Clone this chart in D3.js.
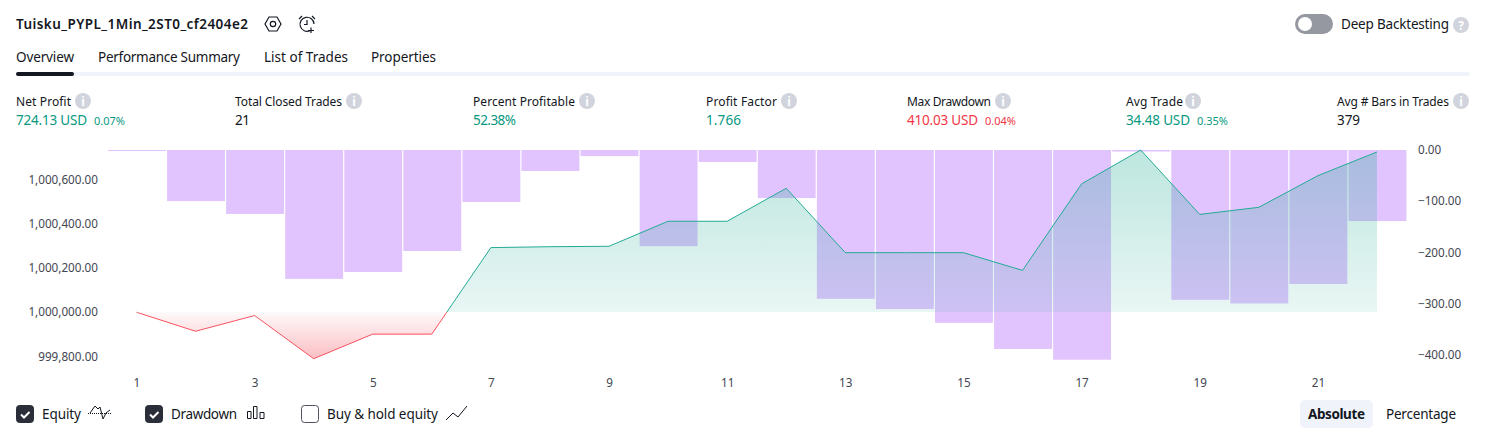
<!DOCTYPE html>
<html>
<head>
<meta charset="utf-8">
<script src="https://cdnjs.cloudflare.com/ajax/libs/d3/7.8.5/d3.min.js"></script>
<style>
  html,body{margin:0;padding:0;background:#fff;overflow:hidden;}
  svg text{font-family:"Noto Sans",sans-serif;fill:#131722;}
  .axis text{font-size:11.7px;fill:#434651;}
  .axis path,.axis line{display:none;}
</style>
</head>
<body>
<script>
// trade numbers 1..22
var trades = d3.range(1,23);
// equity, as offset from the initial 1,000,000
var equity = [0,-86,-15,-210,-99,-99,292,296,298,411,411,560,269,269,269,189,580,733,442,474,617,724.13];
// drawdown per trade
var drawdown = [-2,-100,-125,-252,-238.5,-197.5,-101.7,-41,-12,-188,-23.5,-94,-291,-311,-338,-389,-410.03,-3,-293,-300,-262,-139];

var xTicks = [1,3,5,7,9,11,13,15,17,19,21];
var leftTicks = [600,400,200,0,-200];
var rightTicks = [0,-100,-200,-300,-400];

var tabs = ["Overview","Performance Summary","List of Trades","Properties"];
var statNames = ["Net Profit","Total Closed Trades","Percent Profitable","Profit Factor","Max Drawdown","Avg Trade","Avg # Bars in Trades"];
var statValues = ["724.13 USD","21","52.38%","1.766","410.03 USD","34.48 USD","379"];
var statPcts = ["0.07%","","","","0.04%","0.35%",""];
var statColors = ["#089981","#131722","#089981","#089981","#f23645","#089981","#131722"];

// text layout, the font differs from the original so widths are pinned
var tabX = [16,98,264,371];
var tabW = [58,142,84,65];
var statX = [16,235,473,706,907,1126,1337];
var statW = [55,107,102,71,84,57,112];
var statValW = [71,15,43,35,71,64,23];
var statIconX = [83,354,587,789,1003,1193,1461];
var statPctX = [94,0,0,0,985,1197,0];

var width = 1486, height = 438;
var svg = d3.select("body").append("svg").attr("width",width).attr("height",height).style("display","block");
var defs = svg.append("defs");

var x = d3.scaleBand().domain(trades).range([108,1406.4]).paddingInner(0.02).paddingOuter(0);
var yEq = d3.scaleLinear().domain([-210,733]).range([358.7,150]);
var yDd = d3.scaleLinear().domain([-410.03,0]).range([359.7,150]);
function cx(d){ return x(d)+x.bandwidth()/2-0.5; }

// gradients for the equity fill
var gUp = defs.append("linearGradient").attr("id","gUp").attr("gradientUnits","userSpaceOnUse")
  .attr("x1",0).attr("x2",0).attr("y1",yEq(733)).attr("y2",yEq(0));
gUp.append("stop").attr("offset",0).attr("stop-color","#22ab94").attr("stop-opacity",0.3);
gUp.append("stop").attr("offset",1).attr("stop-color","#22ab94").attr("stop-opacity",0.1);
var gDown = defs.append("linearGradient").attr("id","gDown").attr("gradientUnits","userSpaceOnUse")
  .attr("x1",0).attr("x2",0).attr("y1",yEq(0)).attr("y2",yEq(-210));
gDown.append("stop").attr("offset",0).attr("stop-color","#f23645").attr("stop-opacity",0.03);
gDown.append("stop").attr("offset",1).attr("stop-color","#f23645").attr("stop-opacity",0.32);

defs.append("clipPath").attr("id","above").append("rect")
  .attr("x",0).attr("y",0).attr("width",width).attr("height",yEq(0));
defs.append("clipPath").attr("id","below").append("rect")
  .attr("x",0).attr("y",yEq(0)).attr("width",width).attr("height",height-yEq(0));

// drawdown bars
svg.append("g").selectAll("rect").data(trades).enter().append("rect")
  .attr("x",function(d){ return x(d); })
  .attr("y",yDd(0))
  .attr("width",x.bandwidth())
  .attr("height",function(d,i){ return yDd(drawdown[i])-yDd(0); })
  .attr("fill","#e1c4fe");

// equity area and line, split at the initial capital
var pts = trades.map(function(d,i){ return {t:d,v:equity[i]}; });
var area = d3.area().x(function(d){ return cx(d.t); }).y0(yEq(0)).y1(function(d){ return yEq(d.v); });
var line = d3.line().x(function(d){ return cx(d.t); }).y(function(d){ return yEq(d.v); });

svg.append("path").attr("d",area(pts)).attr("fill","url(#gUp)").attr("clip-path","url(#above)");
svg.append("path").attr("d",area(pts)).attr("fill","url(#gDown)").attr("clip-path","url(#below)");
svg.append("path").attr("d",line(pts)).attr("fill","none").attr("stroke","#22ab94").attr("stroke-width",1).attr("clip-path","url(#above)");
svg.append("path").attr("d",line(pts)).attr("fill","none").attr("stroke","#f7525f").attr("stroke-width",1).attr("clip-path","url(#below)");

// axes
svg.append("g").attr("class","axis").attr("transform","translate(104,0)")
  .call(d3.axisLeft(yEq).tickValues(leftTicks).tickSize(0).tickPadding(6)
    .tickFormat(function(d){ return d3.format(",.2f")(1000000+d); }));
svg.append("g").attr("class","axis").attr("transform","translate(1412,0)")
  .call(d3.axisRight(yDd).tickValues(rightTicks).tickSize(0).tickPadding(6)
    .tickFormat(d3.format(".2f")));
svg.append("g").attr("class","axis").attr("transform","translate(0,376)")
  .call(d3.axisBottom(d3.scaleLinear().domain([1,22]).range([cx(1),cx(22)]))
    .tickValues(xTicks).tickSize(0).tickPadding(3).tickFormat(d3.format("d")));

// header
svg.append("text").attr("x",16).attr("y",29).attr("font-size",13.5).attr("font-weight",600)
  .attr("textLength",232).text("Tuisku_PYPL_1Min_2ST0_cf2404e2");
var gear = svg.append("g").attr("transform","translate(273,24)").attr("fill","none").attr("stroke","#131722").attr("stroke-width",1.2);
gear.append("path").attr("d","M-8,0L-4,-7H4L8,0L4,7H-4Z");
gear.append("circle").attr("r",2.7);
var alarm = svg.append("g").attr("transform","translate(307,24)").attr("fill","none").attr("stroke","#131722").attr("stroke-width",1.2);
alarm.append("path").attr("d","M3,6.6A7,7 0 1 1 7,0M0,-4V0.5H-3M4,3.5V9M1,6.5H7");
alarm.append("path").attr("d","M-8,-5L-5,-8M8,-5L5,-8");

// deep backtesting toggle
svg.append("rect").attr("x",1295).attr("y",14).attr("width",38).attr("height",20).attr("rx",10).attr("fill","#9598a1");
svg.append("circle").attr("cx",1305).attr("cy",24).attr("r",7).attr("fill","#fff");
svg.append("text").attr("x",1341).attr("y",29).attr("font-size",13.5).attr("textLength",108).text("Deep Backtesting");
svg.append("circle").attr("cx",1461).attr("cy",25).attr("r",8).attr("fill","#d1d4dc");
svg.append("text").attr("x",1461).attr("y",29.5).attr("text-anchor","middle").attr("font-size",12).attr("font-weight",700).style("fill","#fff").text("?");

// tabs
svg.append("g").selectAll("text").data(tabs).enter().append("text")
  .attr("x",function(d,i){ return tabX[i]; }).attr("y",62).attr("font-size",13.5)
  .attr("textLength",function(d,i){ return tabW[i]; }).text(function(d){ return d; });
svg.append("rect").attr("x",16).attr("y",72).attr("width",1454).attr("height",4).attr("rx",2).attr("fill","#f0f3fa");
svg.append("rect").attr("x",16).attr("y",72).attr("width",58).attr("height",4).attr("rx",2).attr("fill","#131722");

// stats row
var stat = svg.append("g").selectAll("g").data(statNames).enter().append("g");
stat.append("text").attr("x",function(d,i){ return statX[i]; }).attr("y",106).attr("font-size",12)
  .attr("textLength",function(d,i){ return statW[i]; }).text(function(d){ return d; });
stat.append("circle").attr("cx",function(d,i){ return statIconX[i]; }).attr("cy",101).attr("r",8).attr("fill","#d1d4dc");
stat.append("text").attr("x",function(d,i){ return statIconX[i]; }).attr("y",105.5).attr("text-anchor","middle")
  .attr("font-size",12).attr("font-weight",700).style("fill","#fff").text("i");
stat.append("text").attr("x",function(d,i){ return statX[i]; }).attr("y",125).attr("font-size",13.5)
  .attr("textLength",function(d,i){ return statValW[i]; })
  .style("fill",function(d,i){ return statColors[i]; }).text(function(d,i){ return statValues[i]; });
stat.filter(function(d,i){ return statPcts[i]!==""; }).append("text")
  .attr("x",function(d){ return statPctX[statNames.indexOf(d)]; }).attr("y",125).attr("font-size",11)
  .style("fill",function(d){ return statColors[statNames.indexOf(d)]; })
  .text(function(d){ return statPcts[statNames.indexOf(d)]; });

// legend
function checkbox(px,on){
  svg.append("rect").attr("x",px+0.5).attr("y",405.5).attr("width",17).attr("height",17).attr("rx",3)
    .attr("fill",on?"#2a2e39":"#fff").attr("stroke",on?"#2a2e39":"#50535e");
  if(on) svg.append("path").attr("d","M"+(px+5)+",414.5l3,3l5.5,-5.5").attr("fill","none").attr("stroke","#fff").attr("stroke-width",2);
}
checkbox(16,true); checkbox(145,true); checkbox(301,false);
svg.append("text").attr("x",42).attr("y",419).attr("font-size",13.5).attr("textLength",39).text("Equity");
svg.append("text").attr("x",171).attr("y",419).attr("font-size",13.5).attr("textLength",66).text("Drawdown");
svg.append("text").attr("x",327).attr("y",419).attr("font-size",13.5).attr("textLength",111).text("Buy & hold equity");
var ic = svg.append("g").attr("fill","none").attr("stroke","#131722");
ic.append("path").attr("d","M88,413.5H111").attr("stroke-dasharray","1 1");
ic.append("path").attr("d","M90,413L95,406L98,409L100,407L103,419L106,413L110,410");
ic.append("path").attr("d","M247.5,411.5h3.5v7h-3.5zM253.5,406.5h3.5v12h-3.5zM260,412.5h4v6h-4z");
ic.append("path").attr("d","M446,420L453,413L458,417L467,406");

// absolute / percentage switch
svg.append("rect").attr("x",1300).attr("y",400).attr("width",73).attr("height",28).attr("rx",5).attr("fill","#f0f3fa");
svg.append("text").attr("x",1308).attr("y",419).attr("font-size",13.5).attr("font-weight",700).attr("textLength",57).text("Absolute");
svg.append("text").attr("x",1386).attr("y",419).attr("font-size",13.5).attr("textLength",70).text("Percentage");
</script>
</body>
</html>
